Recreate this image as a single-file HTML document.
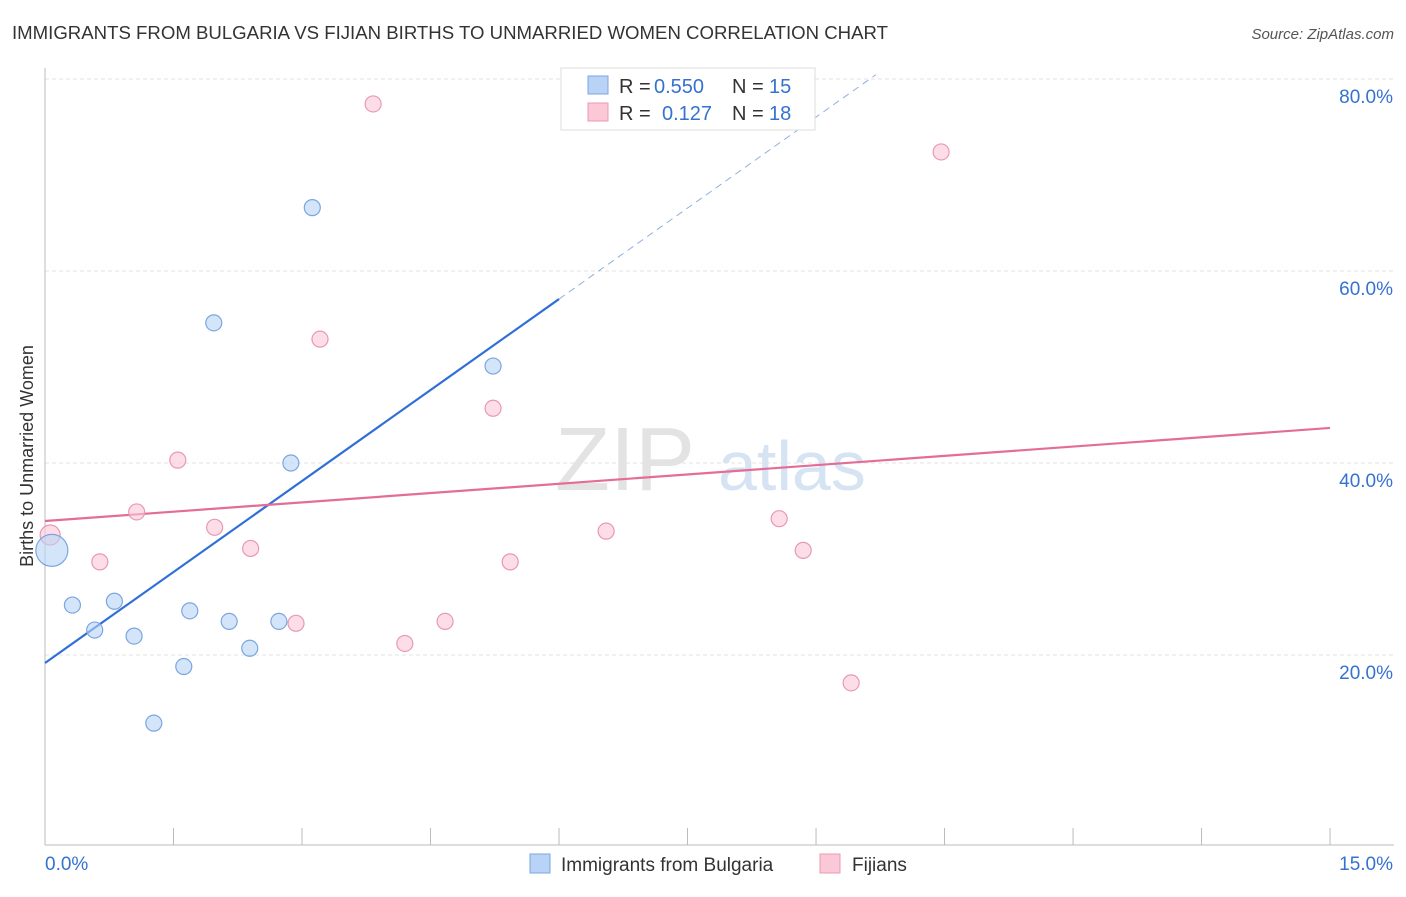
<!DOCTYPE html>
<html><head><meta charset="utf-8">
<style>
body{margin:0;background:#fff;font-family:"Liberation Sans",sans-serif;}
svg text{font-family:"Liberation Sans",sans-serif;}
</style></head>
<body>
<svg id="chart" width="1406" height="892" xmlns="http://www.w3.org/2000/svg">
<text x="12" y="39" font-size="18" fill="#333" textLength="876" lengthAdjust="spacingAndGlyphs">IMMIGRANTS FROM BULGARIA VS FIJIAN BIRTHS TO UNMARRIED WOMEN CORRELATION CHART</text>
<text x="1394" y="39" font-size="15" fill="#555" font-style="italic" text-anchor="end">Source: ZipAtlas.com</text>
<text x="33" y="456" font-size="18" fill="#333" text-anchor="middle" transform="rotate(-90 33 456)">Births to Unmarried Women</text>
<g><text x="555" y="490" font-size="90" fill="#ddd" font-family="Liberation Serif" opacity="0.8">ZIP</text><text x="718" y="490" font-size="70" fill="#c5d8ee" opacity="0.7">atlas</text></g>
<g id="grid"></g><g id="axes"></g><g id="lines"></g><g id="pts"></g>
<g>
<rect x="561" y="68" width="254" height="62" fill="#fff" stroke="#ddd"/>
<rect x="588" y="76" width="20" height="18" fill="#b8d3f5" stroke="#7aa6e0"/>
<text x="619" y="93" font-size="20" fill="#333">R =</text>
<text x="654" y="93" font-size="20" fill="#3572d0">0.550</text>
<text x="732" y="93" font-size="20" fill="#333">N =</text>
<text x="769" y="93" font-size="20" fill="#3572d0">15</text>
<rect x="588" y="103" width="20" height="18" fill="#fbc8d8" stroke="#e898b4"/>
<text x="619" y="120" font-size="20" fill="#333">R =</text>
<text x="662" y="120" font-size="20" fill="#3572d0">0.127</text>
<text x="732" y="120" font-size="20" fill="#333">N =</text>
<text x="769" y="120" font-size="20" fill="#3572d0">18</text>
</g>
<g>
<rect x="530" y="854" width="20" height="19" fill="#b8d3f5" stroke="#7aa6e0"/>
<text x="561" y="871" font-size="19" fill="#333">Immigrants from Bulgaria</text>
<rect x="820" y="854" width="20" height="19" fill="#fbc8d8" stroke="#e898b4"/>
<text x="852" y="871" font-size="19" fill="#333">Fijians</text>
</g>
</svg>
<script>
const blueX=[0.08,0.32,0.58,0.81,1.04,1.27,1.62,1.69,1.97,2.15,2.39,2.73,2.87,3.12,5.23];
const blueY=[30.9,25.2,22.6,25.6,21.97,12.9,18.8,24.6,54.6,23.5,20.7,23.5,40.0,66.6,50.1];
const pinkX=[0.06,0.64,1.07,1.55,1.98,2.40,2.93,3.21,3.83,4.20,4.67,5.23,5.43,6.55,8.57,8.85,9.41,10.46];
const pinkY=[32.5,29.7,34.9,40.3,33.3,31.1,23.3,52.9,77.4,21.2,23.5,45.7,29.7,32.9,34.2,30.9,17.1,72.4];
const yTicks=[20,40,60,80];
const blueLine=[19.17,0.708*85.67/9.6];
const pinkLine=[33.96,(43.65-33.96)/15];
const X=v=>45+v*85.67, Y=v=>847-v*9.6;
const NS="http://www.w3.org/2000/svg";
function mk(p,t,a){const e=document.createElementNS(NS,t);for(const k in a)e.setAttribute(k,a[k]);document.getElementById(p).appendChild(e);return e;}
yTicks.forEach(t=>{
 const l=mk('grid','line',{x1:45,x2:1394,y1:Y(t),y2:Y(t),stroke:'#e3e3e3','stroke-dasharray':'4 3'});
 
 
 const tx=mk('grid','text',{x:1393,y:Y(t)+24,'font-size':19,fill:'#3572d0','text-anchor':'end'});tx.textContent=t+'.0%';
 
 
});
mk('axes','line',{x1:45,x2:45,y1:68,y2:845,stroke:'#bbb'});
mk('axes','line',{x1:45,x2:1394,y1:845,y2:845,stroke:'#bbb'});
for(let i=0;i<=10;i++){mk('axes','line',{x1:X(i*1.5),x2:X(i*1.5),y1:828,y2:845,stroke:'#bbb'});}
let t0=mk('axes','text',{x:45,y:870,'font-size':19,fill:'#3572d0'});t0.textContent='0.0%';


let t1=mk('axes','text',{x:1393,y:870,'font-size':19,fill:'#3572d0','text-anchor':'end'});t1.textContent='15.0%';


const bl=v=>blueLine[0]+blueLine[1]*v;
let l1=mk('lines','line',{x1:X(0),y1:Y(bl(0)),x2:X(6),y2:Y(bl(6)),stroke:'#2f6fd6','stroke-width':2.2});


let l2=mk('lines','line',{x1:X(6),y1:Y(bl(6)),x2:X(9.7),y2:Y(bl(9.7)),stroke:'#8fb0e0','stroke-width':1,'stroke-dasharray':'7 5'});


const pl=v=>pinkLine[0]+pinkLine[1]*v;
let l3=mk('lines','line',{x1:X(0),y1:Y(pl(0)),x2:X(15),y2:Y(pl(15)),stroke:'#e36d97','stroke-width':2.2});


pinkX.forEach((x,i)=>{const c=mk('pts','circle',{cx:X(x),cy:Y(pinkY[i]),r:i==0?10:8,fill:'rgba(251,200,216,0.6)',stroke:'#e898b4','stroke-width':1.2});
 
 });
blueX.forEach((x,i)=>{const c=mk('pts','circle',{cx:X(x),cy:Y(blueY[i]),r:i==0?16:8,fill:'rgba(184,211,245,0.6)',stroke:'#7aa6e0','stroke-width':1.2});
 
 });
</script>
</body></html>
